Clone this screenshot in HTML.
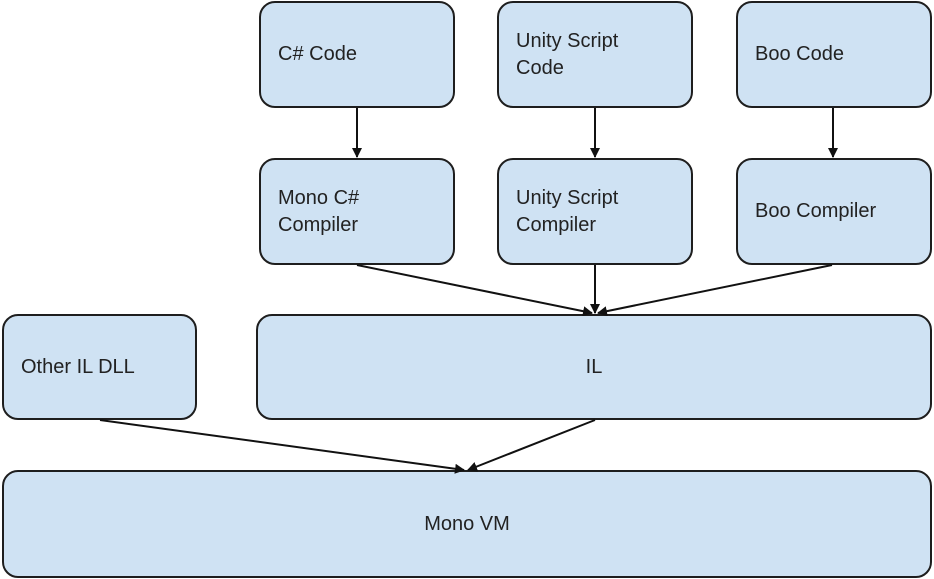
<!DOCTYPE html>
<html><head><style>
body{margin:0;width:934px;height:579px;background:#fff;overflow:hidden;position:relative;font-family:"Liberation Sans",sans-serif}
.b{position:absolute;box-sizing:border-box;background:#cfe2f3;border:2px solid #1e1e1e;border-radius:16px;font-size:20px;color:#222;display:flex;align-items:center;line-height:27px}
.l{padding-left:17px}
.c{justify-content:center}
svg{position:absolute;left:0;top:0}
</style></head><body>
<div class="b l" style="left:259px;top:1px;width:196px;height:107px">C# Code</div>
<div class="b l" style="left:497px;top:1px;width:196px;height:107px">Unity Script<br>Code</div>
<div class="b l" style="left:736px;top:1px;width:196px;height:107px">Boo Code</div>
<div class="b l" style="left:259px;top:158px;width:196px;height:107px">Mono C#<br>Compiler</div>
<div class="b l" style="left:497px;top:158px;width:196px;height:107px">Unity Script<br>Compiler</div>
<div class="b l" style="left:736px;top:158px;width:196px;height:107px">Boo Compiler</div>
<div class="b l" style="left:2px;top:314px;width:195px;height:106px">Other IL DLL</div>
<div class="b c" style="left:256px;top:314px;width:676px;height:106px">IL</div>
<div class="b c" style="left:2px;top:470px;width:930px;height:108px">Mono VM</div>
<svg width="934" height="579">
<defs><marker id="a" markerWidth="10" markerHeight="10" refX="9" refY="5" orient="auto" markerUnits="userSpaceOnUse"><path d="M0,0 L10,5 L0,10z" fill="#111"/></marker></defs>
<g stroke="#111" stroke-width="2" marker-end="url(#a)">
<line x1="357" y1="108" x2="357" y2="157"/>
<line x1="595" y1="108" x2="595" y2="157"/>
<line x1="833" y1="108" x2="833" y2="157"/>
<line x1="357" y1="265" x2="592" y2="313"/>
<line x1="595" y1="265" x2="595" y2="313"/>
<line x1="832" y1="265" x2="598" y2="313"/>
<line x1="100" y1="420" x2="464" y2="470"/>
<line x1="595" y1="420" x2="468" y2="470"/>
</g>
</svg>
</body></html>
